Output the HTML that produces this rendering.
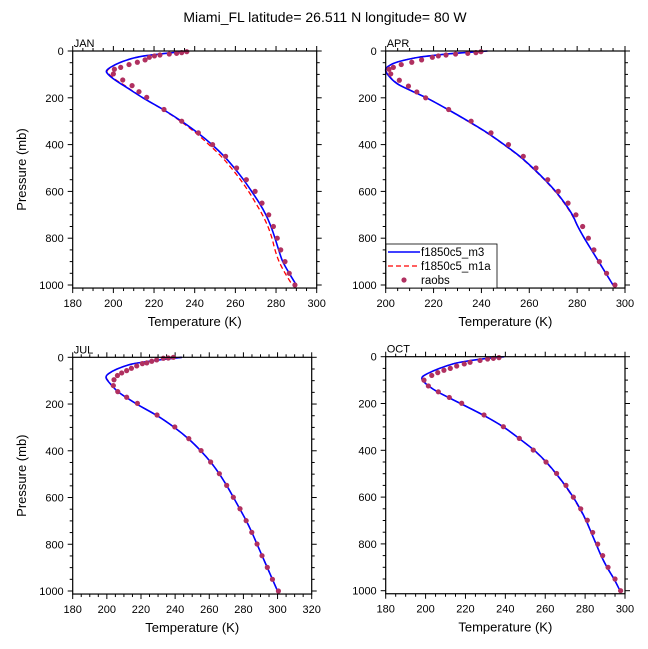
<!DOCTYPE html>
<html><head><meta charset="utf-8"><style>
body{margin:0;background:#fff}
svg{display:block;font-family:"Liberation Sans",sans-serif}
</style></head><body>
<svg id="chart" width="648" height="649" viewBox="0 0 648 649" xmlns="http://www.w3.org/2000/svg">
<text x="325" y="22" font-size="14" text-anchor="middle">Miami_FL  latitude= 26.511 N longitude= 80 W</text>
</svg>
<script>
// Model pressure levels (mb)
const modelP=[0,10,20,30,50,70,85,100,125,150,200,250,300,350,400,450,500,550,600,650,700,750,800,850,900,950,1000];

const janObsP=[3,7,10,13,17,21,27,38,48,58,70,78,98,124,148,174,198,250,300,350,400,450,500,550,600,650,700,750,800,850,900,950,1000];
const janObsT=[236.1,233.6,231.1,227.5,222.9,220.2,217.7,215.6,211.8,207.7,203.6,200.5,200,204.6,209.2,212.6,216.4,224.9,233.6,241.8,248.8,255.2,260.6,265.4,269.7,273.1,276.4,278.7,280.6,282.3,284.4,286.5,289.3];
const janM3T=[236.5,226,216,210,203,198.5,196.6,197.5,201,205.5,214.5,224.5,233.5,241.5,248.5,254.5,259.5,264,268,271.8,275,277.5,279.5,281.3,283.3,286.5,290];
const janM1T=[236.5,226,216,210,203,198.8,197,198,201.5,206,214.5,224.3,233,240.5,247,253,258,262.5,266.5,270,273.3,276,278,279.5,281.5,284.5,288];

const aprObsP=[3,7,10,13,17,21,27,38,48,58,70,78,98,125,150,175,200,250,300,350,400,450,500,550,600,650,700,750,800,850,900,950,1000];
const aprObsT=[239.8,237.7,234.3,229.2,225.2,222,219.5,215,210.9,206.5,203.2,201.4,202.1,205.7,209.5,213,216.7,226.3,235.7,244,251.3,257.5,262.8,267.7,272.1,276.2,279.5,282.3,284.7,287,289.3,292.3,295.8];
const aprM3T=[242.5,229,219,212,204,200.5,200,200.8,203,206.5,217,226,234.5,242.5,249.5,256,261.5,266.5,271,274.8,278,280.3,283,286,289,292,295];
const aprM1T=[242.5,229,219,212,204,200.6,200.1,201,203.2,206.7,217,226,234.3,242.3,249.3,255.8,261.3,266.3,270.8,274.6,277.8,280.3,283,286,289,292,295];

const julObsP=[0,3,4,11,17,24,27,37,47,57,67,78,96,121,147,171,197,247,298,348,399,448,498,548,599,648,699,749,799,849,899,950,1000];
const julObsT=[239,236,233.1,229.2,226.3,223.4,220.8,217.5,214.4,211.6,208.7,206.2,204.2,203.8,206.4,211.6,217.9,229.4,239.8,248,255.2,260.8,265.9,270.2,274.1,278,281.6,284.9,288,290.9,294,297,300.5];
const julM3T=[244,232,222,214,206,201,199.5,200.5,203.5,207,217.5,229.5,239.5,248,255,261,266,270.3,274.2,278,281.7,285,288,291,294,297,300];
const julM1T=[244,232,222,214,206,201.2,199.7,200.7,203.6,207,217.5,229.5,239.5,248,255,261,266,270.3,274.2,278,281.7,285,288,291,294,297,300];

const octObsP=[4,7,10,16,24,31,40,50,58,68,80,100,125,150,174,199,249,299,349,399,450,499,550,600,650,699,751,801,850,900,950,1000];
const octObsT=[236.8,234,231.1,227.3,222.3,219.4,215.6,212.4,209.2,206.1,203.1,199.2,201.4,206.4,211.9,218.1,229.3,239,247,254,260.4,265.7,270.4,274.1,277.8,281.1,283.8,286.3,288.8,291.5,295,297.8];
const octM3T=[239.5,228,220,214,207,201.5,198.5,198.4,201.5,206,217.5,229,239,247,254.5,260.5,265.5,270,274,277.5,280.5,283,285.5,288,291,294.5,297.5];
const octM1T=[239.5,228,220,214,207,201.7,198.7,198.6,201.7,206,217.5,229,239,247,254.3,260.3,265.3,269.8,273.8,277.3,280.4,283,285.5,288,291,294.5,297.5];

const janXTicks=[180,200,220,240,260,280,300];
const aprXTicks=[200,220,240,260,280,300];
const julXTicks=[180,200,220,240,260,280,300,320];
const octXTicks=[180,200,220,240,260,280,300];
const yTicks=[0,200,400,600,800,1000];

const NS='http://www.w3.org/2000/svg';
const svg=document.getElementById('chart');
function mk(tag,attrs,parent){const e=document.createElementNS(NS,tag);for(const k in attrs)e.setAttribute(k,attrs[k]);(parent||svg).appendChild(e);return e;}
function smooth(pts){let d='M'+pts[0][0].toFixed(2)+','+pts[0][1].toFixed(2);
 for(let i=0;i<pts.length-1;i++){const p0=pts[i-1]||pts[i],p1=pts[i],p2=pts[i+1],p3=pts[i+2]||p2;
  const c1=[p1[0]+(p2[0]-p0[0])/6,p1[1]+(p2[1]-p0[1])/6],c2=[p2[0]-(p3[0]-p1[0])/6,p2[1]-(p3[1]-p1[1])/6];
  d+='C'+c1[0].toFixed(2)+','+c1[1].toFixed(2)+' '+c2[0].toFixed(2)+','+c2[1].toFixed(2)+' '+p2[0].toFixed(2)+','+p2[1].toFixed(2);}
 return d;}

function panel(o){
 const g=mk('g',{});
 
 
 const x=t=>o.x0+(t-o.tmin)/(o.tmax-o.tmin)*(o.x1-o.x0);
 const y=p=>o.y0+p/1000*(o.y1000-o.y0);
 const bottom=y(1013);
 for(let t=o.tmin;t<=o.tmax;t+=5){const maj=(t%20===0);const L=maj?5:3;
  mk('line',{x1:x(t),x2:x(t),y1:bottom,y2:bottom+L,stroke:'#000','stroke-width':1},g);
  mk('line',{x1:x(t),x2:x(t),y1:o.y0,y2:o.y0-L,stroke:'#000','stroke-width':1},g);}
 for(let p=0;p<=1000;p+=50){const maj=(p%200===0);const L=maj?5:3;
  mk('line',{x1:o.x0,x2:o.x0-L,y1:y(p),y2:y(p),stroke:'#000','stroke-width':1},g);
  mk('line',{x1:o.x1,x2:o.x1+L,y1:y(p),y2:y(p),stroke:'#000','stroke-width':1},g);}
 o.xticks.forEach(t=>{const e=mk('text',{x:x(t),y:bottom+19,'font-size':11,'text-anchor':'middle'},g);e.textContent=t;
  
  });
 yTicks.forEach(p=>{const e=mk('text',{x:o.x0-9,y:y(p)+4,'font-size':11,'text-anchor':'end'},g);e.textContent=p;
  
  });
 const xt=mk('text',{x:(o.x0+o.x1)/2,y:bottom+38,'font-size':13,'text-anchor':'middle'},g);xt.textContent='Temperature (K)';
 
 
 if(o.ytitle){const yt=mk('text',{x:0,y:0,'font-size':13,'text-anchor':'middle',transform:'translate(26,'+((o.y0+bottom)/2)+') rotate(-90)'},g);yt.textContent='Pressure (mb)';
  
  }
 const lab=mk('text',{x:o.x0+1,y:o.y0-4,'font-size':11},g);lab.textContent=o.label;
 
 
 const red=mk('path',{d:smooth(modelP.map((p,i)=>[x(o.m1T[i]),y(p)])),fill:'none',stroke:'#ff0000','stroke-width':1.3,'stroke-dasharray':'5,3'},g);
 
 
 const blue=mk('path',{d:smooth(modelP.map((p,i)=>[x(o.m3T[i]),y(p)])),fill:'none',stroke:'#0000ff','stroke-width':1.6},g);
 
 
 o.obsP.forEach((p,i)=>{const c=mk('circle',{cx:x(o.obsT[i]),cy:y(p),r:2.6,fill:'#b03060'},g);
  
  });
 const fr=mk('rect',{x:o.x0,y:o.y0,width:o.x1-o.x0,height:bottom-o.y0,fill:'none',stroke:'#000','stroke-width':1.2},g);
 
 
}
panel({name:'jan',label:'JAN',x0:72.7,x1:316.7,tmin:180,tmax:300,y0:51,y1000:285,xticks:janXTicks,ytitle:true,obsP:janObsP,obsT:janObsT,m3T:janM3T,m1T:janM1T});
panel({name:'apr',label:'APR',x0:385.7,x1:625,tmin:200,tmax:300,y0:51,y1000:285,xticks:aprXTicks,ytitle:false,obsP:aprObsP,obsT:aprObsT,m3T:aprM3T,m1T:aprM1T});
panel({name:'jul',label:'JUL',x0:72.7,x1:311.7,tmin:180,tmax:320,y0:357.3,y1000:591,xticks:julXTicks,ytitle:true,obsP:julObsP,obsT:julObsT,m3T:julM3T,m1T:julM1T});
panel({name:'oct',label:'OCT',x0:385.7,x1:625,tmin:180,tmax:300,y0:356.7,y1000:590.7,xticks:octXTicks,ytitle:false,obsP:octObsP,obsT:octObsT,m3T:octM3T,m1T:octM1T});

const lg=mk('g',{});


mk('rect',{x:386,y:244,width:111,height:44,fill:'#fff',stroke:'#000','stroke-width':0.8},lg);
mk('line',{x1:388,x2:420,y1:252,y2:252,stroke:'#0000ff','stroke-width':1.6},lg);
mk('line',{x1:388,x2:420,y1:266,y2:266,stroke:'#ff0000','stroke-width':1.3,'stroke-dasharray':'5,3'},lg);
mk('circle',{cx:404,cy:280,r:2.6,fill:'#b03060'},lg);
[['f1850c5_m3',256],['f1850c5_m1a',270],['raobs',284]].forEach(a=>{const t=mk('text',{x:421,y:a[1],'font-size':11.5},lg);t.textContent=a[0];
 
 });
</script>
</body></html>
